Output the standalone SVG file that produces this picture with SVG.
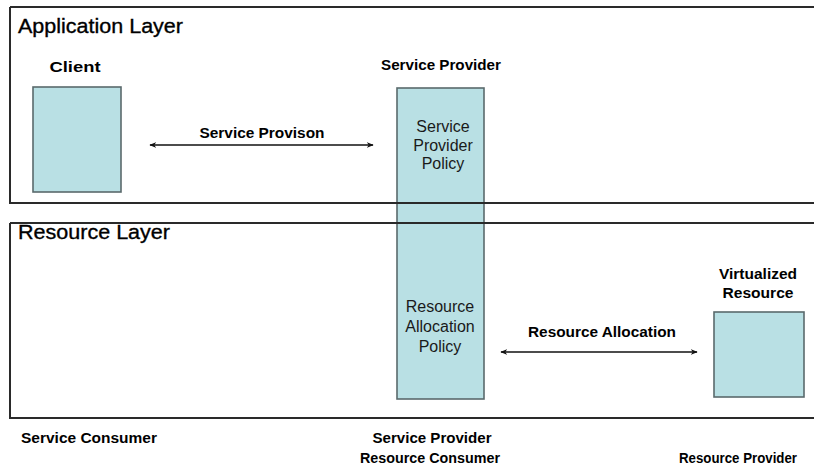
<svg xmlns="http://www.w3.org/2000/svg" width="814" height="468" viewBox="0 0 814 468">
<style>
.layer{fill:none;stroke:#2a2a2a;stroke-width:2}
.node{fill:#b9e0e4;stroke:#5a6a6c;stroke-width:1.6}
.title{font-family:"Liberation Sans",Arial,sans-serif;font-size:20.5px;fill:#000;stroke:#000;stroke-width:0.35}
.lbl{font-family:"Liberation Sans",Arial,sans-serif;font-size:14px;font-weight:bold;fill:#000;text-anchor:middle}
.pol{font-family:"Liberation Sans",Arial,sans-serif;font-size:16px;fill:#1a1a1a;text-anchor:middle}
.conn{stroke:#111;stroke-width:1.6;fill:none}
</style>
<defs>
<marker id="ah" viewBox="0 0 10 10" refX="9" refY="5" markerWidth="7" markerHeight="7" markerUnits="userSpaceOnUse" orient="auto-start-reverse">
<path d="M0,1 L10,5 L0,9 L3,5 Z" fill="#111"/>
</marker>
</defs>
<rect width="814" height="468" fill="#fff"/>
<g id="service-provider">
<rect class="node" x="397" y="88" width="87" height="311"/>
<text class="pol" x="443" y="132">Service</text>
<text class="pol" x="443" y="150.5">Provider</text>
<text class="pol" x="443" y="169">Policy</text>
<text class="pol" x="440" y="312">Resource</text>
<text class="pol" x="440" y="332">Allocation</text>
<text class="pol" x="440" y="352">Policy</text>
<text class="lbl" x="441" y="70" textLength="120" lengthAdjust="spacingAndGlyphs">Service Provider</text>
</g>
<g id="application-layer">
<path class="layer" d="M10,7 H815 M10,7 V203 H815"/>
<text class="title" x="18" y="33" textLength="165" lengthAdjust="spacingAndGlyphs">Application Layer</text>
</g>
<g id="resource-layer">
<path class="layer" d="M10,223 H815 M10,223 V418 H815"/>
<text class="title" x="18" y="239" textLength="152" lengthAdjust="spacingAndGlyphs">Resource Layer</text>
</g>
<g id="client">
<rect class="node" x="33" y="87" width="88" height="105"/>
<text class="lbl" x="75" y="72" textLength="51" lengthAdjust="spacingAndGlyphs">Client</text>
</g>
<g id="virtualized-resource">
<rect class="node" x="714" y="312" width="90" height="85"/>
<text class="lbl" x="758" y="279" textLength="78" lengthAdjust="spacingAndGlyphs">Virtualized</text>
<text class="lbl" x="758" y="298" textLength="71" lengthAdjust="spacingAndGlyphs">Resource</text>
</g>
<g id="connectors">
<line class="conn" x1="150" y1="145" x2="373" y2="145" marker-start="url(#ah)" marker-end="url(#ah)"/>
<text class="lbl" x="262" y="138" textLength="125" lengthAdjust="spacingAndGlyphs">Service Provison</text>
<line class="conn" x1="501" y1="352" x2="697" y2="352" marker-start="url(#ah)" marker-end="url(#ah)"/>
<text class="lbl" x="602" y="337" textLength="148" lengthAdjust="spacingAndGlyphs">Resource Allocation</text>
</g>
<g id="roles">
<text class="lbl" x="89" y="443" textLength="136" lengthAdjust="spacingAndGlyphs">Service Consumer</text>
<text class="lbl" x="432" y="443" textLength="119" lengthAdjust="spacingAndGlyphs">Service Provider</text>
<text class="lbl" x="430" y="463" textLength="140" lengthAdjust="spacingAndGlyphs">Resource Consumer</text>
<text class="lbl" x="738" y="463" textLength="118" lengthAdjust="spacingAndGlyphs">Resource Provider</text>
</g>
</svg>
